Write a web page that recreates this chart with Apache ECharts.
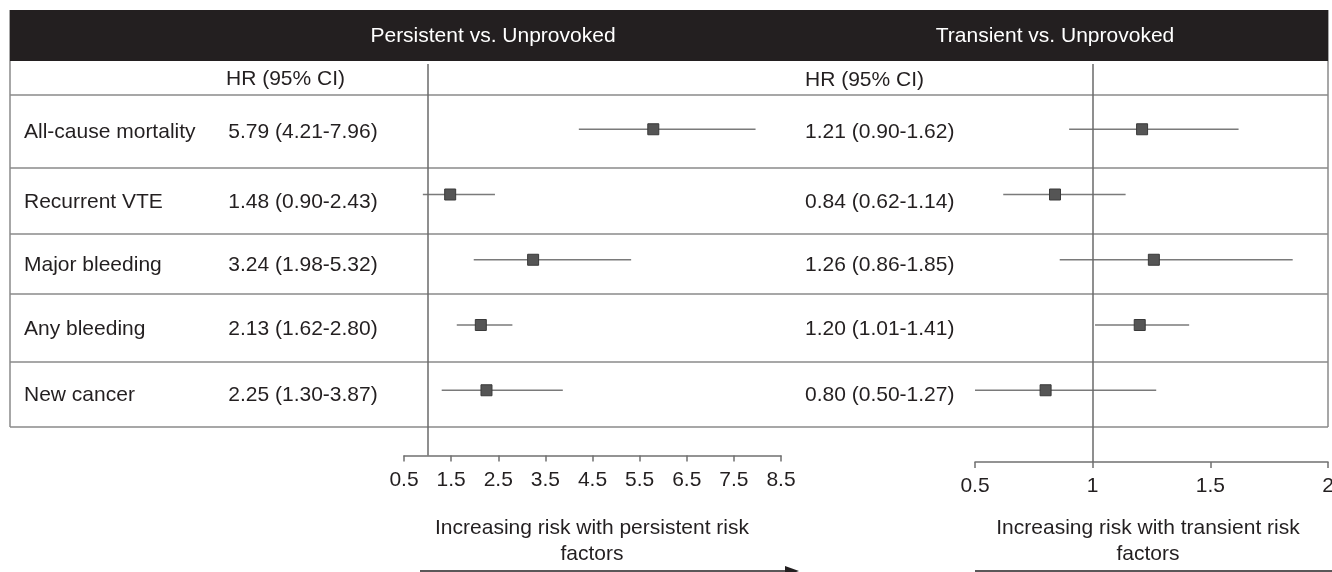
<!DOCTYPE html>
<html>
<head>
<meta charset="utf-8">
<script src="https://cdn.jsdelivr.net/npm/echarts@6/dist/echarts.min.js"></script>
<style>
  html, body { margin: 0; padding: 0; background: #fff; }
  #chart { width: 1332px; height: 572px; }
</style>
</head>
<body>
<div id="chart"></div>
<script>
// Outcomes and hazard ratios (95% CI)
const outcomes = ['All-cause mortality', 'Recurrent VTE', 'Major bleeding', 'Any bleeding', 'New cancer'];

const persistentHR = [5.79, 1.48, 3.24, 2.13, 2.25];
const persistentLo = [4.21, 0.90, 1.98, 1.62, 1.30];
const persistentHi = [7.96, 2.43, 5.32, 2.80, 3.87];

const transientHR = [1.21, 0.84, 1.26, 1.20, 0.80];
const transientLo = [0.90, 0.62, 0.86, 1.01, 0.50];
const transientHi = [1.62, 1.14, 1.85, 1.41, 1.27];

const panelTitles = ['Persistent vs. Unprovoked', 'Transient vs. Unprovoked'];
const columnHeader = 'HR (95% CI)';
const footNotes = ['Increasing risk with persistent risk\nfactors', 'Increasing risk with transient risk\nfactors'];

// Table layout (pixels)
const FONT = '"Liberation Sans", Arial, Helvetica, sans-serif';
const TEXT = '#231f20';
const RULE = '#8a8a8a';
const rowEdges = [95, 168, 234, 294, 362, 427];
const tableLeft = 10, tableRight = 1328, bandTop = 10, bandBottom = 61;

function fmt(hr, lo, hi) {
  return hr.toFixed(2) + ' (' + lo.toFixed(2) + '-' + hi.toFixed(2) + ')';
}

const chart = echarts.init(document.getElementById('chart'));

const graphics = [];
// dark header band
graphics.push({ type: 'rect', shape: { x: tableLeft, y: bandTop, width: tableRight - tableLeft, height: bandBottom - bandTop },
  style: { fill: '#231f20' }, z: 1 });
graphics.push({ type: 'text', x: 493, y: 36, style: { text: panelTitles[0], fill: '#fff', font: '21px ' + FONT, textAlign: 'center', textVerticalAlign: 'middle' }, z: 2 });
graphics.push({ type: 'text', x: 1055, y: 36, style: { text: panelTitles[1], fill: '#fff', font: '21px ' + FONT, textAlign: 'center', textVerticalAlign: 'middle' }, z: 2 });
// outer borders
graphics.push({ type: 'line', shape: { x1: tableLeft, y1: bandTop, x2: tableLeft, y2: rowEdges[5] }, style: { stroke: RULE, lineWidth: 1.5 } });
graphics.push({ type: 'line', shape: { x1: tableRight, y1: bandTop, x2: tableRight, y2: rowEdges[5] }, style: { stroke: RULE, lineWidth: 1.5 } });
// row rules
rowEdges.forEach(function (y) {
  graphics.push({ type: 'line', shape: { x1: tableLeft, y1: y, x2: tableRight, y2: y }, style: { stroke: RULE, lineWidth: 1.5 } });
});
// column headers
graphics.push({ type: 'text', x: 226, y: 79, style: { text: columnHeader, fill: TEXT, font: '21px ' + FONT, textAlign: 'left', textVerticalAlign: 'middle' } });
graphics.push({ type: 'text', x: 805, y: 80, style: { text: columnHeader, fill: TEXT, font: '21px ' + FONT, textAlign: 'left', textVerticalAlign: 'middle' } });
// row texts
outcomes.forEach(function (name, i) {
  const yc = (rowEdges[i] + rowEdges[i + 1]) / 2 + 1;
  graphics.push({ type: 'text', x: 24, y: yc, style: { text: name, fill: TEXT, font: '21px ' + FONT, textAlign: 'left', textVerticalAlign: 'middle' } });
  graphics.push({ type: 'text', x: 303, y: yc, style: { text: fmt(persistentHR[i], persistentLo[i], persistentHi[i]), fill: TEXT, font: '21px ' + FONT, textAlign: 'center', textVerticalAlign: 'middle' } });
  graphics.push({ type: 'text', x: 805, y: yc, style: { text: fmt(transientHR[i], transientLo[i], transientHi[i]), fill: TEXT, font: '21px ' + FONT, textAlign: 'left', textVerticalAlign: 'middle' } });
});
// direction notes and arrows
graphics.push({ type: 'text', x: 592, y: 541, style: { text: footNotes[0], fill: TEXT, font: '21px ' + FONT, textAlign: 'center', textVerticalAlign: 'middle', lineHeight: 26 } });
graphics.push({ type: 'text', x: 1148, y: 541, style: { text: footNotes[1], fill: TEXT, font: '21px ' + FONT, textAlign: 'center', textVerticalAlign: 'middle', lineHeight: 26 } });
graphics.push({ type: 'line', shape: { x1: 420, y1: 571, x2: 790, y2: 571 }, style: { stroke: TEXT, lineWidth: 1.5 } });
graphics.push({ type: 'polygon', shape: { points: [[785, 566], [799, 571], [785, 576]] }, style: { fill: TEXT } });
graphics.push({ type: 'line', shape: { x1: 975, y1: 571, x2: 1332, y2: 571 }, style: { stroke: TEXT, lineWidth: 1.5 } });

function whiskers(lo, hi) {
  return lo.map(function (v, i) { return [v, hi[i], i + 1]; });
}
function points(hr) {
  return hr.map(function (v, i) { return [v, i + 1]; });
}
function renderWhisker(params, api) {
  const a = api.coord([api.value(0), api.value(2)]);
  const b = api.coord([api.value(1), api.value(2)]);
  return { type: 'line', shape: { x1: a[0], y1: a[1], x2: b[0], y2: b[1] }, style: { stroke: '#7a7a7a', lineWidth: 1.4 } };
}

const axisCommon = {
  type: 'value',
  position: 'bottom',
  axisLine: { show: true, onZero: false, lineStyle: { color: '#707070', width: 1.5 } },
  axisTick: { show: true, length: 6, lineStyle: { color: '#707070', width: 1.5 } },
  splitLine: { show: false },
  axisLabel: { color: TEXT, fontSize: 21, fontFamily: FONT, showMinLabel: true, showMaxLabel: true }
};

const refLine = {
  silent: true, symbol: 'none', label: { show: false },
  lineStyle: { color: '#6a6a6a', width: 1.5, type: 'solid' },
  data: [{ xAxis: 1 }]
};

chart.setOption({
  animation: false,
  backgroundColor: '#fff',
  graphic: graphics,
  grid: [
    { left: 404, width: 377, top: 64, height: 391.5, outerBoundsMode: 'none', containLabel: false },
    { left: 975, width: 353, top: 64, height: 398, outerBoundsMode: 'none', containLabel: false }
  ],
  xAxis: [
    Object.assign({}, axisCommon, { gridIndex: 0, min: 0.5, max: 8.5, interval: 1,
      axisLabel: Object.assign({}, axisCommon.axisLabel, { margin: 14, formatter: function (v) { return v.toFixed(1); } }) }),
    Object.assign({}, axisCommon, { gridIndex: 1, min: 0.5, max: 2, interval: 0.5,
      axisLabel: Object.assign({}, axisCommon.axisLabel, { margin: 14 }) })
  ],
  yAxis: [
    { type: 'value', gridIndex: 0, min: 0, max: 6, inverse: true, show: false },
    { type: 'value', gridIndex: 1, min: 0, max: 398 / 65.25, inverse: true, show: false }
  ],
  series: [
    { type: 'custom', xAxisIndex: 0, yAxisIndex: 0, renderItem: renderWhisker, data: whiskers(persistentLo, persistentHi), markLine: refLine, z: 2 },
    { type: 'scatter', xAxisIndex: 0, yAxisIndex: 0, symbol: 'rect', symbolSize: 11, data: points(persistentHR),
      itemStyle: { color: '#555555', borderColor: '#3a3a3a', borderWidth: 1, opacity: 1 }, z: 3 },
    { type: 'custom', xAxisIndex: 1, yAxisIndex: 1, renderItem: renderWhisker, data: whiskers(transientLo, transientHi), markLine: refLine, z: 2 },
    { type: 'scatter', xAxisIndex: 1, yAxisIndex: 1, symbol: 'rect', symbolSize: 11, data: points(transientHR),
      itemStyle: { color: '#555555', borderColor: '#3a3a3a', borderWidth: 1, opacity: 1 }, z: 3 }
  ]
});
</script>
</body>
</html>
